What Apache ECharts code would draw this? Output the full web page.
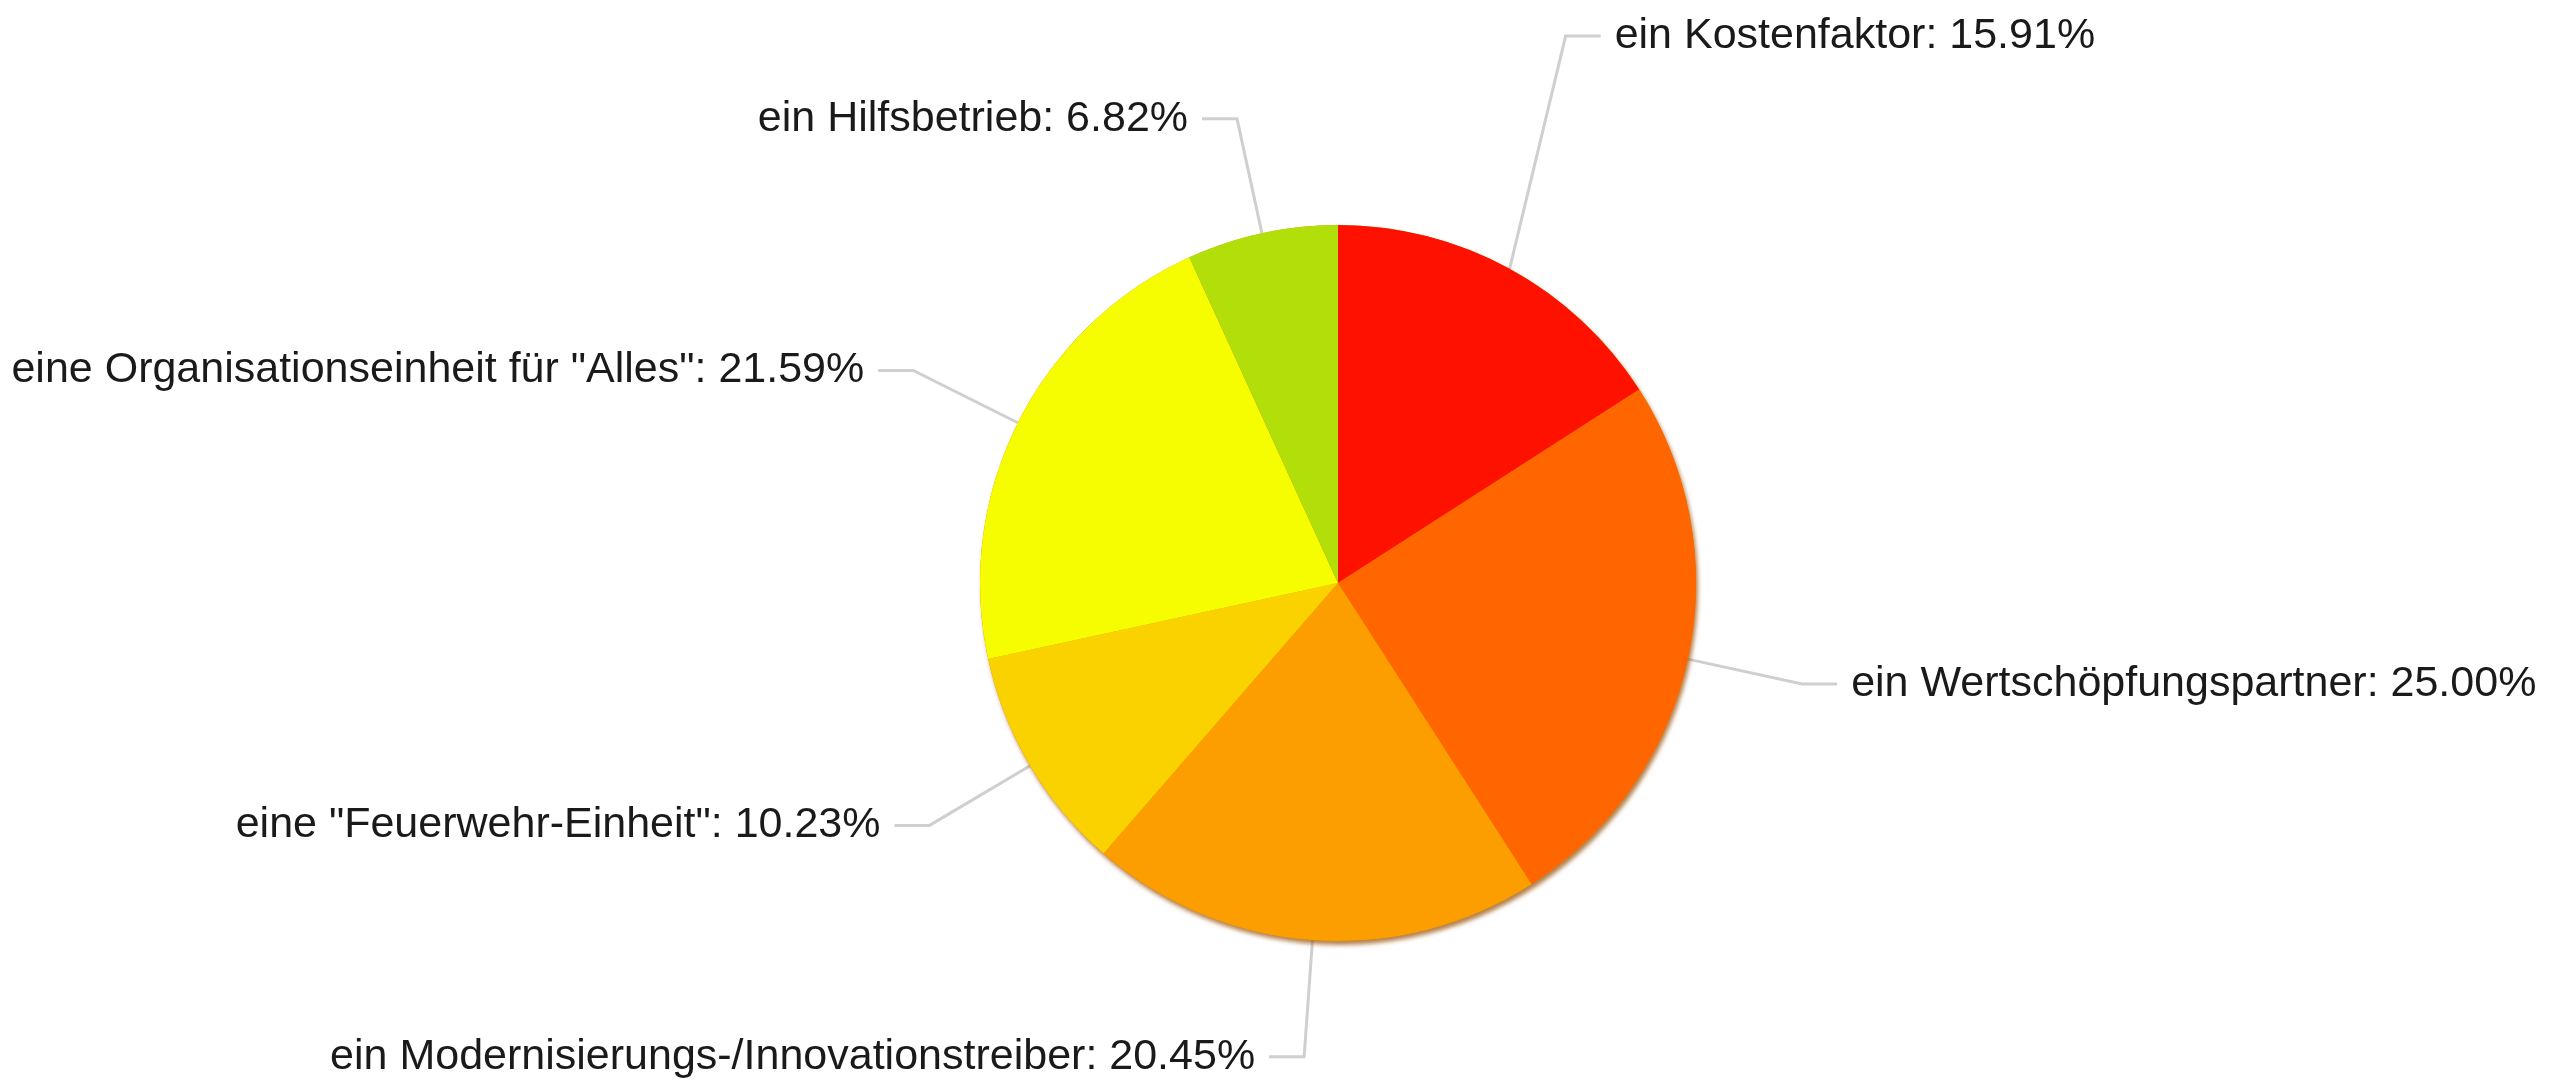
<!DOCTYPE html>
<html>
<head>
<meta charset="utf-8">
<title>Pie</title>
<script src="https://cdn.jsdelivr.net/npm/echarts@6/dist/echarts.min.js"></script>
<style>
  html, body { margin: 0; padding: 0; background: #fff; }
  #chart { width: 2575px; height: 1085px; }
</style>
</head>
<body>
<div id="chart"></div>
<script>
// answers (counts), order clockwise from 12 o'clock
const categories = [
  'ein Kostenfaktor',
  'ein Wertschöpfungspartner',
  'ein Modernisierungs-/Innovationstreiber',
  'eine "Feuerwehr-Einheit"',
  'eine Organisationseinheit für "Alles"',
  'ein Hilfsbetrieb'
]
const counts = [14, 22, 18, 9, 19, 6]
const colors = ['#FF1100', '#FF6600', '#FC9D00', '#FAD200', '#F5FD00', '#B2DE0A']

const pieCenter = [1338, 583]
const pieRadius = 358

var chart = echarts.init(document.getElementById('chart'), null, { renderer: 'canvas' })

var option = {
  animation: false,
  backgroundColor: '#fff',
  series: [
    {
      // plain disc under the pie, only there to cast the soft rim shadow
      type: 'pie',
      silent: true,
      center: pieCenter,
      radius: pieRadius,
      label: { show: false },
      labelLine: { show: false },
      data: [{ value: 1 }],
      itemStyle: {
        color: '#d98400',
        shadowColor: 'rgba(150,75,0,0.7)',
        shadowBlur: 4,
        shadowOffsetX: 2,
        shadowOffsetY: 4
      }
    },
    {
      type: 'pie',
      center: pieCenter,
      radius: pieRadius,
      startAngle: 90,
      clockwise: true,
      avoidLabelOverlap: false,
      itemStyle: { borderWidth: 0 },
      label: {
        show: true,
        position: 'outside',
        alignTo: 'none',
        overflow: 'none',
        distanceToLabelLine: 14,
        color: '#1a1a1a',
        fontSize: 43,
        fontFamily: '"Liberation Sans", Arial, sans-serif',
        formatter: function (p) {
          return p.name + ': ' + p.percent.toFixed(2) + '%'
        }
      },
      labelLine: {
        show: true,
        length: 117,
        length2: 35,
        smooth: false,
        lineStyle: { color: '#cfcfcf', width: 3 }
      },
      // the first label sits higher up, its line bends towards it
      labelLayout: function (p) {
        if (p.dataIndex !== 0 || !p.labelLinePoints) return {}
        var dy = -130
        var pts = p.labelLinePoints
        return {
          y: p.labelRect.y + p.labelRect.height / 2 + dy,
          labelLinePoints: [
            pts[0],
            [pts[1][0], pts[1][1] + dy],
            [pts[2][0], pts[2][1] + dy]
          ]
        }
      },
      data: categories.map(function (name, i) {
        return { name: name, value: counts[i], itemStyle: { color: colors[i] } }
      })
    }
  ]
}

chart.setOption(option)
</script>
</body>
</html>
